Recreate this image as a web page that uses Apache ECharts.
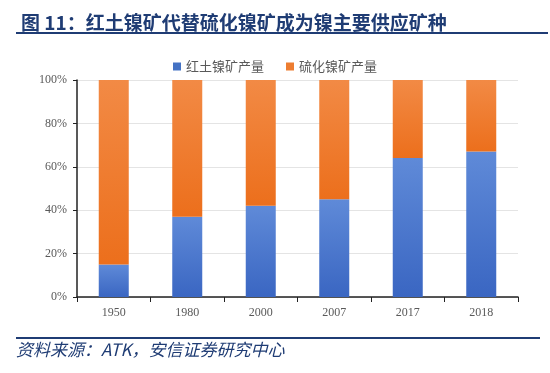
<!DOCTYPE html>
<html><head><meta charset="utf-8">
<script src="https://cdn.jsdelivr.net/npm/echarts@6/dist/echarts.min.js"></script>
<style>html,body{margin:0;padding:0;background:#fff}#c{width:550px;height:373px}</style>
</head><body><div id="c"></div>
<script>
const categories = ['1950','1980','2000','2007','2017','2018'];
const lateriteShare = [15, 37, 42, 45, 64, 67];
const sulfideShare = [85, 63, 58, 55, 36, 33];
const yTicks = [0, 20, 40, 60, 80, 100];

const chart = echarts.init(document.getElementById('c'));
const blue = new echarts.graphic.LinearGradient(0,0,0,1,[{offset:0,color:'#5f8ad8'},{offset:1,color:'#3a66c2'}]);
const orange = new echarts.graphic.LinearGradient(0,0,0,1,[{offset:0,color:'#f28a45'},{offset:1,color:'#ec6f1c'}]);
chart.setOption({
  animation:false,
  title:{text:'图 11：红土镍矿代替硫化镍矿成为镍主要供应矿种',left:16,top:8,
    textStyle:{color:'#1f3c74',fontSize:19,fontWeight:'bold',fontFamily:'Noto Sans CJK SC',letterSpacing:0.4}},
  legend:{top:55,left:'center',itemWidth:8,itemHeight:8,itemGap:22,icon:'rect',
    textStyle:{color:'#595959',fontSize:13,fontFamily:'Noto Sans CJK SC',letterSpacing:1.2},
    data:[{name:'红土镍矿产量',itemStyle:{color:'#4472c4'}},{name:'硫化镍矿产量',itemStyle:{color:'#ed7d31'}}]},
  grid:{left:77,right:32,top:80,bottom:76},
  xAxis:{type:'category',data:categories,
    axisLine:{lineStyle:{color:'#222',width:1.5}},
    axisTick:{show:true,alignWithLabel:false,length:5,lineStyle:{color:'#222'}},
    axisLabel:{color:'#595959',fontSize:12,fontFamily:'Liberation Serif',margin:10}},
  yAxis:{type:'value',min:0,max:100,interval:20,
    axisLine:{show:true,lineStyle:{color:'#222',width:1.5}},
    axisTick:{show:true,inside:false,length:4,lineStyle:{color:'#222'}},
    splitLine:{lineStyle:{color:'#e4e4e4'}},
    axisLabel:{color:'#595959',fontSize:12,fontFamily:'Liberation Serif',margin:10,
      formatter:v=>yTicks.includes(v)?v+'%':''}},
  series:[
    {name:'红土镍矿产量',type:'bar',stack:'s',data:lateriteShare,barWidth:30,itemStyle:{color:blue}},
    {name:'硫化镍矿产量',type:'bar',stack:'s',data:sulfideShare,barWidth:30,itemStyle:{color:orange}}
  ],
  graphic:[
    {type:'line',shape:{x1:16,y1:33,x2:548,y2:33},style:{stroke:'#1f3c74',lineWidth:2}},
    {type:'line',shape:{x1:16,y1:338,x2:540,y2:338},style:{stroke:'#1f3c74',lineWidth:2}},
    {type:'text',left:16,top:341,style:{text:'资料来源：ATK，安信证券研究中心',fill:'#1f3c74',fontSize:17,fontStyle:'italic',fontFamily:'Noto Sans CJK SC'}}
  ]
});
</script></body></html>
